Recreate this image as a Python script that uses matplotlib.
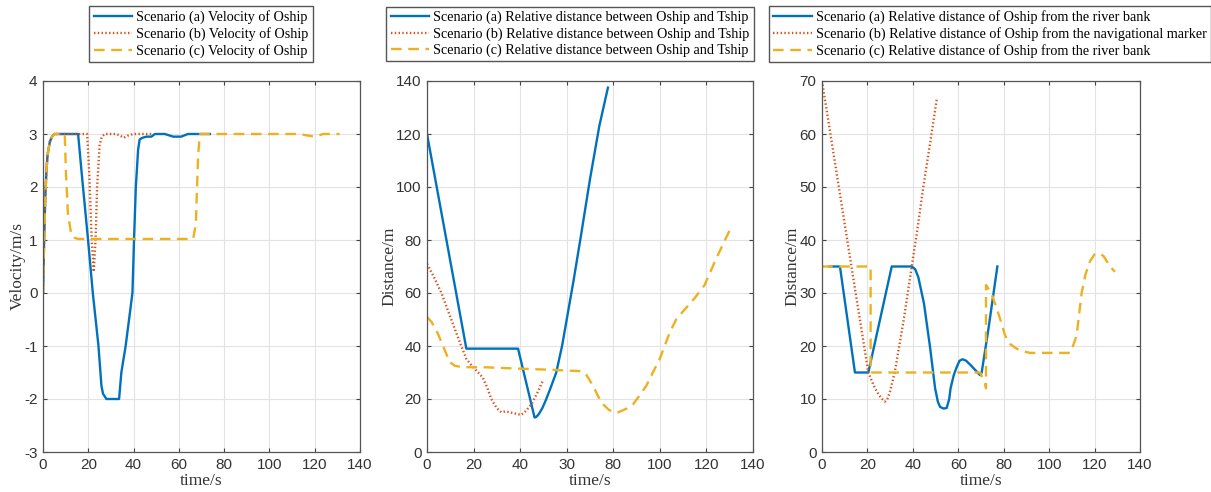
import matplotlib
matplotlib.use("Agg")
import matplotlib.pyplot as plt

plt.rcParams["axes.unicode_minus"] = False

# ---- data ----
# panel 1: velocity of Oship
t_va = [0, 0.5, 1, 1.5, 2, 3, 4, 5, 15.5, 17, 19.9, 22, 24.5, 25.8, 26.5, 28, 33.6, 34.6, 36.5, 39.5,
        40.2, 41, 42, 42.7, 44, 45.7, 47.9, 49.4, 53.8, 57.5, 61, 64, 73.7]
v_a = [0, 1.0, 1.8, 2.3, 2.6, 2.85, 2.95, 3, 3, 2.3, 1, 0, -1, -1.75, -1.9, -2, -2, -1.5, -1, 0,
       1, 2, 2.7, 2.9, 2.93, 2.95, 2.95, 3, 3, 2.95, 2.95, 3, 3]
t_vb = [0, 0.5, 1, 1.5, 2, 3, 4, 5, 19.5, 20.5, 21.5, 22.4, 23.2, 23.9, 25, 26, 27.3, 32.4, 34, 35.7,
        37.5, 39.8, 48.6]
v_b = [0, 1.0, 1.8, 2.3, 2.6, 2.85, 2.95, 3, 3, 2.2, 1.0, 0.4, 1.0, 2.0, 2.8, 2.95, 3, 3, 2.97, 2.93,
       2.97, 3, 3]
t_vc = [0, 0.5, 1, 1.5, 2, 3, 4, 5, 9.6, 10.2, 11, 12.5, 14, 15.5, 66.3, 67.5, 68.5, 69.3, 113.5,
        117, 120, 123.8, 131]
v_c = [0, 1.0, 1.8, 2.3, 2.6, 2.85, 2.95, 3, 3, 2.2, 1.5, 1.1, 1.04, 1.02, 1.02, 1.3, 2.6, 3, 3,
       2.97, 2.95, 3, 3]

# panel 2: relative distance between Oship and Tship
t_da = [0, 16.9, 39.1, 46.2, 47, 48, 49.5, 51, 53, 55.5, 58, 60, 63, 66, 70, 74, 77.7]
d_a = [120, 39, 39, 13, 13.3, 14.3, 16.5, 19.5, 24, 30, 40, 50, 65, 81, 103, 123, 137.5]
t_db = [0, 3, 6.2, 10, 14.7, 17, 19.8, 22, 24, 26, 27.6, 30, 31.9, 33.5, 35.5, 38, 40.5, 42.5, 44.8,
        47.5, 49.8]
d_b = [71, 66, 60, 51, 40, 35, 32, 30, 28, 24, 20, 16.5, 15, 15.3, 15, 14.5, 14, 15.5, 18, 22.5, 27]
t_dc = [0, 2, 4.5, 6.9, 9.7, 12, 15.5, 24, 38.4, 54, 66.3, 68.5, 71.3, 73.5, 75.6, 78, 79.9, 82,
        83.5, 86, 88.5, 91, 94.2, 97, 99.9, 104.2, 107, 109.9, 114.9, 119.2, 124.2, 130.7]
d_c = [51, 49, 45, 40, 34, 32.5, 32, 32, 31.5, 31, 30.5, 29, 25, 21, 18, 16, 15, 15, 15.5, 16.5,
       18, 21, 25, 30, 35, 45, 50, 53, 58, 63, 73, 85]

# panel 3: relative distance of Oship from river bank / navigational marker
t_ra = [3.2, 7.9, 14.5, 20.4, 30.7, 39.5, 41, 42.4, 44.9, 47.5, 49.8, 51, 52, 53.5, 54.9, 56, 56.6,
        58, 59.3, 60.5, 61.9, 63.5, 65.2, 69.6, 70.3, 73.2, 77.2]
r_a = [35, 35, 15, 15, 35, 35, 34.5, 33, 28, 20, 12, 9.5, 8.5, 8.2, 8.3, 10, 12, 14.5, 16, 17.2,
       17.5, 17.2, 16.5, 14.5, 15, 23, 35]
t_rb = [0, 5, 10, 15, 20.4, 22.5, 24, 26, 27.7, 29, 30, 32, 36, 39.5, 42, 44.6, 47.5, 50.5]
r_b = [70, 56.5, 43, 29.5, 15, 12.8, 11.5, 10.2, 9.5, 10.2, 11.5, 15, 25, 35, 42, 50, 58, 66.5]
t_rc = [0, 21.4, 21.4, 69.6, 71.8, 72.2, 72.2, 73, 74.5, 76.2, 78.5, 80.6, 83, 85.7, 88.5, 91.6,
        109.2, 110.5, 112.1, 114.3, 116, 118, 120, 121.7, 123.9, 126.8, 129]
r_c = [35, 35, 15, 15, 13, 12, 31.5, 31, 30, 28, 25, 22, 20.3, 19.5, 19, 18.7, 18.7, 20, 22, 30,
       33.5, 36, 37.3, 37.5, 37, 35, 34]

labels_v = ["Scenario (a) Velocity of Oship", "Scenario (b) Velocity of Oship",
            "Scenario (c) Velocity of Oship"]
labels_d = ["Scenario (a) Relative distance between Oship and Tship",
            "Scenario (b) Relative distance between Oship and Tship",
            "Scenario (c) Relative distance between Oship and Tship"]
labels_r = ["Scenario (a) Relative distance of Oship from the river bank",
            "Scenario (b) Relative distance of Oship from the navigational marker",
            "Scenario (c) Relative distance of Oship from the river bank"]

xticks = [0, 20, 40, 60, 80, 100, 120, 140]
xlabels_mid = ["0", "20", "40", "30", "80", "100", "120", "140"]

BLUE, RED, YEL = "#0072BD", "#D95319", "#EDB120"
SERIF = "Liberation Serif"
SANS = "Liberation Sans"

fig = plt.figure(figsize=(12.11, 4.92), dpi=100)
W, H = 1211.0, 492.0


def make_ax(x0, x1, y0=81, y1=452):
    return fig.add_axes([x0 / W, 1 - y1 / H, (x1 - x0) / W, (y1 - y0) / H])


def style(ax, yticks, ylabel, xtl=None):
    ax.set_xlim(0, 140)
    ax.set_xticks(xticks)
    if xtl:
        ax.set_xticklabels(xtl)
    ax.set_ylim(yticks[0], yticks[-1])
    ax.set_yticks(yticks)
    ax.grid(True, color="#e3e3e3", lw=0.8)
    ax.set_axisbelow(True)
    ax.tick_params(direction="in", top=True, right=True, length=3, width=0.8,
                   color="#444444", labelsize=11, labelcolor="#333333", pad=4)
    for lab in ax.get_xticklabels() + ax.get_yticklabels():
        lab.set_fontfamily(SANS)
    for s in ax.spines.values():
        s.set_color("#555555")
        s.set_linewidth(0.9)
    ax.set_xlabel("time/s", family=SERIF, fontsize=12.5, color="#333333", labelpad=1)
    ax.set_ylabel(ylabel, family=SERIF, fontsize=12.5, color="#333333", labelpad=-1)


def three(ax, xs, ys, labels, cx):
    la, = ax.plot(xs[0], ys[0], color=BLUE, lw=1.7)
    lb, = ax.plot(xs[1], ys[1], color=RED, lw=1.7, ls=(0, (0.6, 1.0)))
    lc, = ax.plot(xs[2], ys[2], color=YEL, lw=1.7, ls=(0, (4.5, 2.8)))
    fig.legend([la, lb, lc], labels, loc="center", bbox_to_anchor=(cx / W, 1 - 34 / H),
               prop={"family": SERIF, "size": 10.2}, frameon=True, fancybox=False,
               edgecolor="#555555", framealpha=1, borderpad=0.3, labelspacing=0.2,
               handlelength=2.7, handletextpad=0.3, borderaxespad=0)


ax1 = make_ax(43, 360)
three(ax1, [t_va, t_vb, t_vc], [v_a, v_b, v_c], labels_v, 201)
style(ax1, [-3, -2, -1, 0, 1, 2, 3, 4], "Velocity/m/s")

ax2 = make_ax(427, 753)
three(ax2, [t_da, t_db, t_dc], [d_a, d_b, d_c], labels_d, 570)
style(ax2, [0, 20, 40, 60, 80, 100, 120, 140], "Distance/m", xlabels_mid)

ax3 = make_ax(822, 1140)
three(ax3, [t_ra, t_rb, t_rc], [r_a, r_b, r_c], labels_r, 990)
style(ax3, [0, 10, 20, 30, 40, 50, 60, 70], "Distance/m")

fig.savefig("out.png", dpi=100)
